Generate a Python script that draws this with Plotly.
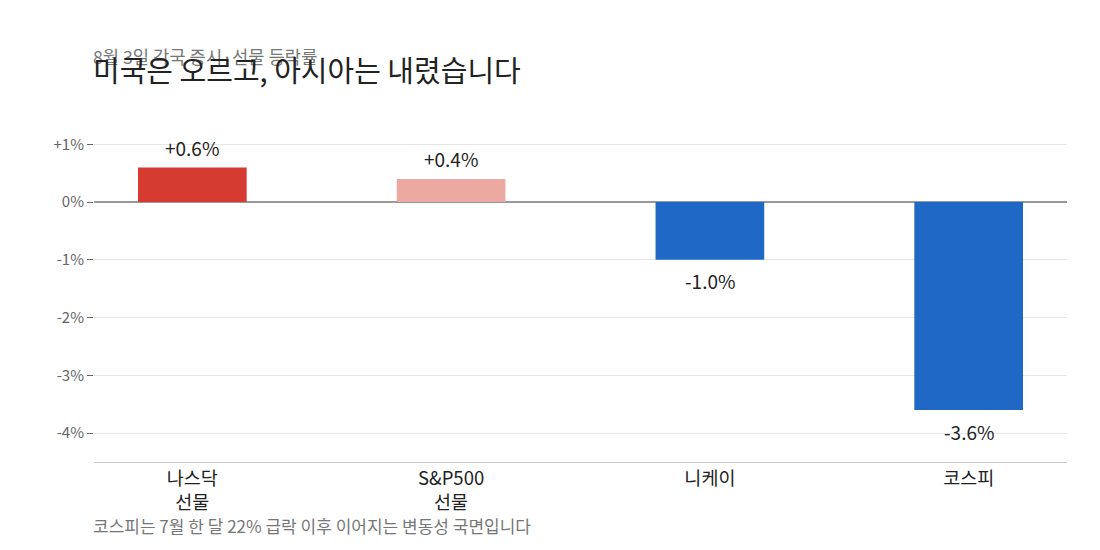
import plotly.graph_objects as go

# 8월 3일 각국 증시·선물 등락률 (%)
markets = ["나스닥<br>선물", "S&P500<br>선물", "니케이", "코스피"]
changes = [0.6, 0.4, -1.0, -3.6]
bar_colors = ["#d63b31", "#eca9a2", "#1f68c6", "#1f68c6"]
labels = ["+0.6%", "+0.4%", "-1.0%", "-3.6%"]

tick_vals = [1, 0, -1, -2, -3, -4]
tick_text = ["+1%", "0%", "-1%", "-2%", "-3%", "-4%"]

FONT = "Noto Sans CJK KR"

fig = go.Figure()
fig.add_trace(go.Bar(
    x=markets,
    y=changes,
    marker=dict(color=bar_colors, line=dict(width=0)),
    width=0.42,
    hoverinfo="skip",
))

# value labels above / below bars
for m, v, t in zip(markets, changes, labels):
    fig.add_annotation(
        x=m, y=v, text=t, showarrow=False,
        yshift=20 if v > 0 else -21,
        font=dict(family=FONT, size=19, color="#222"),
    )

# title / subtitle / footnote
fig.add_annotation(
    xref="paper", yref="paper", x=0, y=1.212, xanchor="left", yanchor="middle",
    xshift=-3,
    text="8월 3일 각국 증시·선물 등락률", showarrow=False,
    font=dict(family=FONT, size=17.7, color="#777"),
)
fig.add_annotation(
    xref="paper", yref="paper", x=0, y=1.172, xanchor="left", yanchor="middle",
    xshift=-3,
    text="미국은 오르고, 아시아는 내렸습니다", showarrow=False,
    font=dict(family=FONT, size=29, color="#222"),
)
fig.add_annotation(
    xref="paper", yref="paper", x=0, y=-0.191, xanchor="left", yanchor="middle",
    xshift=-3,
    text="코스피는 7월 한 달 22% 급락 이후 이어지는 변동성 국면입니다", showarrow=False,
    font=dict(family=FONT, size=17, color="#777"),
)

fig.update_layout(
    width=1100, height=550,
    margin=dict(l=86, r=41, t=119, b=96),
    paper_bgcolor="white", plot_bgcolor="white",
    showlegend=False,
    font=dict(family=FONT),
    xaxis=dict(
        range=[-0.38, 3.38],
        showgrid=False, zeroline=False,
        showline=True, linecolor="#cccccc", linewidth=1,
        ticks="", tickfont=dict(family=FONT, size=18.5, color="#222"),
        fixedrange=True,
    ),
    yaxis=dict(
        range=[-4.5, 1.3],
        tickvals=tick_vals, ticktext=tick_text,
        tickfont=dict(family=FONT, size=15, color="#666"),
        ticks="outside", ticklen=6, tickcolor="#666", tickwidth=1,
        showgrid=True, gridcolor="#e6e6e6", gridwidth=1,
        zeroline=True, zerolinecolor="#999999", zerolinewidth=1.5,
        showline=False,
        fixedrange=True,
    ),
)

fig.write_html("out.html")
